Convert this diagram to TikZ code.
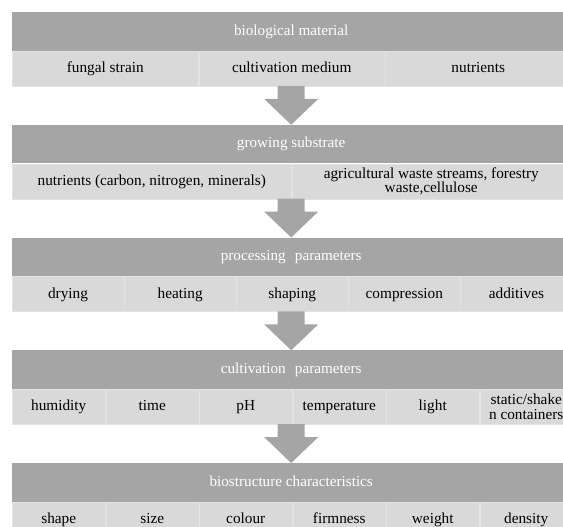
\documentclass[tikz,border=0pt]{standalone}
\usepackage{fontspec}
\setmainfont{Liberation Serif}
\usetikzlibrary{calc}
\definecolor{hdr}{HTML}{A5A5A5}
\definecolor{cellfill}{HTML}{D9D9D9}
\definecolor{sepline}{HTML}{E3E3E3}
\tikzset{
  header/.style={fill=hdr, text=white, minimum width=558pt, minimum height=38.5pt,
    inner sep=0pt, anchor=north west, text height=10.5pt, text depth=3pt,
    font=\fontsize{15.2}{15}\selectfont},
  cellbox/.style={fill=cellfill, draw=sepline, line width=0.5pt, minimum height=35pt,
    inner sep=0pt, anchor=north west, align=center, font=\fontsize{15.3}{14.5}\selectfont},
  onecell/.style={cellbox, text height=11pt, text depth=3pt},
  flow/.style={fill=hdr, draw=none},
}
\newcommand\flowarrow[2]{%
  \path[flow] ($(#1.south)+(-13.5,35)$) -- ($(#1.south)+(13.5,35)$)
    -- ($(#1.south)+(13.5,48)$) -- ($(#1.south)+(27,48)$) -- (#2.north)
    -- ($(#1.south)+(-27,48)$) -- ($(#1.south)+(-13.5,48)$) -- cycle;}
\begin{document}
\begin{tikzpicture}[x=1pt,y=-1pt]
\clip (0,0) rectangle (563,527);
\fill[white] (0,0) rectangle (563,527);
% block 1
\node[header] (h1) at (12,12) {biological material};
\node[onecell, minimum width=186pt] (c11) at (h1.south west) {fungal strain};
\node[onecell, minimum width=186pt] (c12) at (c11.north east) {cultivation medium};
\node[onecell, minimum width=186pt] (c13) at (c12.north east) {nutrients};
% block 2
\node[header] (h2) at (12,124.75) {growing substrate};
\node[onecell, minimum width=279pt] (c21) at (h2.south west) {nutrients (carbon, nitrogen, minerals)};
\node[cellbox, minimum width=279pt] (c22) at (c21.north east) {agricultural waste streams, forestry\\waste,cellulose};
% block 3
\node[header] (h3) at (12,237.5) {processing\hspace{0.35em} parameters};
\node[onecell, minimum width=111.6pt] (c31) at (h3.south west) {drying};
\node[onecell, minimum width=111.6pt] (c32) at (c31.north east) {heating};
\node[onecell, minimum width=111.6pt] (c33) at (c32.north east) {shaping};
\node[onecell, minimum width=111.6pt] (c34) at (c33.north east) {compression};
\node[onecell, minimum width=111.6pt] (c35) at (c34.north east) {additives};
% block 4
\node[header] (h4) at (12,350.25) {cultivation\hspace{0.35em} parameters};
\node[onecell, minimum width=93pt] (c41) at (h4.south west) {humidity};
\node[onecell, minimum width=93pt] (c42) at (c41.north east) {time};
\node[onecell, minimum width=93pt] (c43) at (c42.north east) {pH};
\node[onecell, minimum width=93pt] (c44) at (c43.north east) {temperature};
\node[onecell, minimum width=93pt] (c45) at (c44.north east) {light};
\node[cellbox, minimum width=93pt] (c46) at (c45.north east) {static/shake\\n containers};
% block 5
\node[header] (h5) at (12,463) {biostructure characteristics};
\node[onecell, minimum width=93pt] (c51) at (h5.south west) {shape};
\node[onecell, minimum width=93pt] (c52) at (c51.north east) {size};
\node[onecell, minimum width=93pt] (c53) at (c52.north east) {colour};
\node[onecell, minimum width=93pt] (c54) at (c53.north east) {firmness};
\node[onecell, minimum width=93pt] (c55) at (c54.north east) {weight};
\node[onecell, minimum width=93pt] (c56) at (c55.north east) {density};
% arrows
\flowarrow{h1}{h2}
\flowarrow{h2}{h3}
\flowarrow{h3}{h4}
\flowarrow{h4}{h5}
\end{tikzpicture}
\end{document}
